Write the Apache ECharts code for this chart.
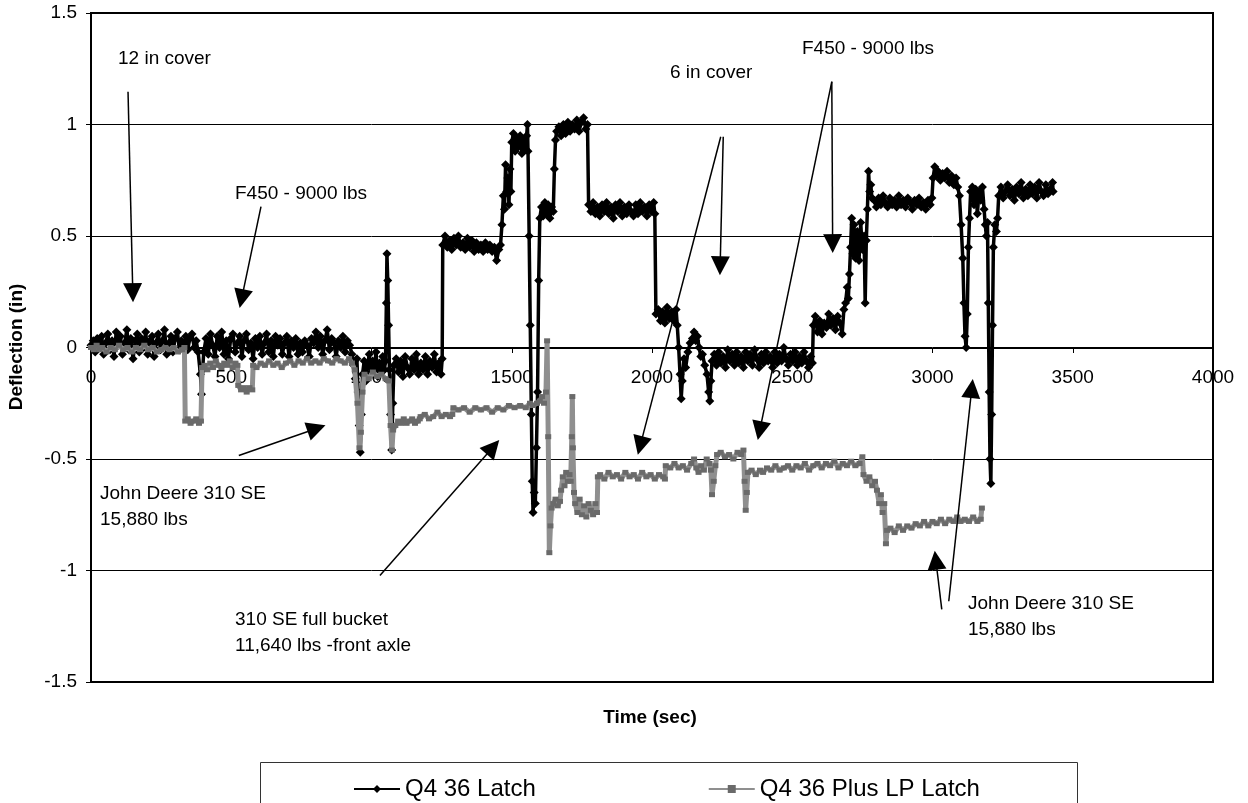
<!DOCTYPE html>
<html>
<head>
<meta charset="utf-8">
<title>Deflection vs time</title>
<script src="https://cdn.jsdelivr.net/npm/echarts@6/dist/echarts.min.js"></script>
<style>
  html, body { margin: 0; padding: 0; background: #fff; }
  #chart { width: 1248px; height: 803px; }
</style>
</head>
<body>
<div id="chart"></div>
<script>
// [time (sec), deflection (in)]
const q4Latch = [
  [0, 0.01], [8, 0.03], [15, -0.02], [22, 0.04], [30, 0.0], [38, 0.05], [45, -0.03], [52, 0.02], [60, 0.06], [68, -0.01],
  [75, 0.03], [82, -0.04], [90, 0.07], [98, 0.01], [105, 0.05], [112, -0.03], [120, 0.02], [128, 0.08], [135, -0.01], [142, 0.04],
  [150, -0.05], [158, 0.03], [165, 0.06], [172, -0.02], [180, 0.04], [188, 0.0], [195, 0.07], [202, -0.03], [210, 0.03], [218, 0.05],
  [225, -0.04], [232, 0.02], [240, 0.06], [248, -0.01], [255, 0.03], [262, 0.08], [270, -0.03], [278, 0.02], [285, 0.05], [292, -0.02],
  [300, 0.04], [308, 0.07], [315, -0.01], [322, 0.03], [330, 0.0], [338, 0.05], [345, -0.01], [352, 0.04], [360, 0.06], [368, 0.0],
  [375, 0.03], [382, -0.02], [390, -0.12], [394, -0.21], [398, -0.1], [402, -0.02], [410, 0.04], [418, -0.03], [426, 0.06], [434, 0.01],
  [442, -0.04], [450, 0.05], [458, 0.0], [466, 0.07], [474, -0.03], [482, 0.03], [490, -0.05], [498, 0.04], [506, 0.06], [514, -0.02],
  [522, 0.02], [530, 0.05], [538, -0.04], [546, 0.03], [554, 0.06], [562, -0.01], [570, 0.02], [578, -0.05], [586, 0.04], [594, 0.0],
  [602, 0.05], [610, -0.03], [618, 0.02], [626, 0.06], [634, -0.02], [642, 0.03], [650, -0.04], [658, 0.05], [666, 0.01], [674, 0.04],
  [682, -0.03], [690, 0.02], [698, 0.05], [706, -0.04], [714, 0.03], [722, 0.0], [730, 0.04], [738, -0.03], [746, 0.02], [754, -0.02],
  [762, 0.03], [770, 0.01], [778, -0.04], [786, 0.04], [794, 0.02], [802, 0.07], [810, 0.0], [818, 0.05], [826, -0.03], [834, 0.03],
  [842, 0.08], [850, -0.01], [858, 0.04], [866, 0.02], [874, -0.04], [882, 0.03], [890, 0.0], [898, 0.05], [906, -0.02], [914, 0.03],
  [922, 0.01], [930, -0.03], [936, -0.08], [942, -0.14], [948, -0.05], [952, -0.2], [956, -0.35], [960, -0.47], [964, -0.3], [968, -0.12],
  [974, -0.06], [980, -0.15], [986, -0.08], [992, -0.03], [998, -0.12], [1004, -0.06], [1010, -0.1], [1016, -0.02], [1022, -0.13], [1028, -0.07],
  [1034, -0.11], [1040, -0.04], [1046, -0.1], [1050, -0.06], [1053, 0.2], [1055, 0.42], [1058, 0.3], [1061, 0.1], [1064, -0.1], [1068, -0.3],
  [1072, -0.46], [1076, -0.25], [1080, -0.08], [1088, -0.05], [1096, -0.11], [1104, -0.06], [1112, -0.13], [1120, -0.04], [1128, -0.09], [1136, -0.12],
  [1144, -0.05], [1152, -0.1], [1160, -0.03], [1168, -0.12], [1176, -0.07], [1184, -0.1], [1192, -0.04], [1200, -0.12], [1208, -0.06], [1216, -0.09],
  [1224, -0.03], [1232, -0.11], [1240, -0.07], [1248, -0.12], [1252, -0.05], [1254, 0.46], [1262, 0.5], [1270, 0.45], [1278, 0.48], [1286, 0.44],
  [1294, 0.49], [1302, 0.46], [1310, 0.5], [1318, 0.45], [1326, 0.47], [1334, 0.44], [1342, 0.49], [1350, 0.45], [1358, 0.48], [1366, 0.43],
  [1374, 0.47], [1382, 0.44], [1390, 0.46], [1398, 0.43], [1406, 0.47], [1414, 0.44], [1422, 0.46], [1430, 0.43], [1438, 0.45], [1446, 0.39],
  [1454, 0.44], [1460, 0.46], [1465, 0.55], [1470, 0.68], [1474, 0.62], [1478, 0.82], [1482, 0.7], [1486, 0.76], [1490, 0.64], [1494, 0.8],
  [1497, 0.7], [1500, 0.92], [1506, 0.96], [1512, 0.88], [1518, 0.94], [1524, 0.9], [1530, 0.95], [1536, 0.87], [1542, 0.93], [1548, 0.89],
  [1553, 0.95], [1556, 1.0], [1558, 0.88], [1562, 0.5], [1566, 0.1], [1570, -0.3], [1573, -0.6], [1576, -0.74], [1580, -0.65], [1584, -0.7],
  [1588, -0.45], [1592, -0.2], [1596, 0.3], [1600, 0.58], [1606, 0.63], [1612, 0.59], [1618, 0.65], [1624, 0.6], [1630, 0.64], [1636, 0.58],
  [1642, 0.63], [1648, 0.61], [1652, 0.8], [1656, 0.93], [1660, 0.97], [1668, 0.99], [1676, 0.95], [1684, 1.0], [1692, 0.96], [1700, 1.01],
  [1708, 0.97], [1716, 1.0], [1724, 0.98], [1732, 1.02], [1740, 0.97], [1748, 1.01], [1756, 1.03], [1764, 0.98], [1770, 1.0], [1774, 0.64],
  [1782, 0.61], [1790, 0.65], [1798, 0.6], [1806, 0.63], [1814, 0.59], [1822, 0.64], [1830, 0.61], [1838, 0.65], [1846, 0.6], [1854, 0.63],
  [1862, 0.58], [1870, 0.64], [1878, 0.61], [1886, 0.65], [1894, 0.59], [1902, 0.63], [1910, 0.6], [1918, 0.64], [1926, 0.61], [1934, 0.59],
  [1942, 0.64], [1950, 0.6], [1958, 0.65], [1966, 0.61], [1974, 0.63], [1982, 0.59], [1990, 0.64], [1998, 0.61], [2006, 0.65], [2010, 0.6],
  [2014, 0.15], [2022, 0.17], [2030, 0.12], [2038, 0.16], [2046, 0.11], [2054, 0.18], [2062, 0.13], [2070, 0.16], [2078, 0.12], [2086, 0.17],
  [2090, 0.1], [2095, 0.0], [2100, -0.12], [2104, -0.23], [2108, -0.15], [2114, -0.05], [2120, -0.09], [2128, -0.02], [2136, 0.02], [2144, 0.04],
  [2150, 0.07], [2156, 0.03], [2162, 0.05], [2168, 0.0], [2174, -0.04], [2180, -0.03], [2188, -0.08], [2196, -0.12], [2202, -0.2], [2206, -0.24],
  [2210, -0.15], [2214, -0.06], [2222, -0.03], [2230, -0.08], [2238, -0.02], [2246, -0.07], [2254, -0.04], [2262, -0.09], [2270, -0.01], [2278, -0.06],
  [2286, -0.03], [2294, -0.08], [2302, -0.02], [2310, -0.07], [2318, -0.04], [2326, -0.09], [2334, -0.02], [2342, -0.06], [2350, -0.03], [2358, -0.08],
  [2366, -0.01], [2374, -0.05], [2382, -0.09], [2390, -0.03], [2398, -0.07], [2406, -0.02], [2414, -0.06], [2422, -0.04], [2430, -0.09], [2438, -0.02],
  [2446, -0.07], [2454, -0.03], [2462, -0.06], [2470, 0.0], [2478, -0.05], [2486, -0.08], [2494, -0.03], [2502, -0.06], [2510, -0.02], [2518, -0.08],
  [2526, -0.04], [2534, -0.07], [2542, -0.02], [2550, -0.06], [2558, -0.09], [2566, -0.04], [2572, -0.07], [2575, 0.1], [2582, 0.14], [2590, 0.07],
  [2598, 0.12], [2606, 0.06], [2614, 0.11], [2622, 0.09], [2630, 0.15], [2638, 0.1], [2646, 0.13], [2654, 0.08], [2662, 0.14], [2670, 0.11],
  [2678, 0.06], [2684, 0.17], [2690, 0.2], [2696, 0.27], [2700, 0.22], [2704, 0.33], [2708, 0.45], [2712, 0.58], [2716, 0.42], [2720, 0.55],
  [2726, 0.4], [2732, 0.52], [2738, 0.39], [2744, 0.56], [2750, 0.44], [2756, 0.5], [2760, 0.2], [2764, 0.48], [2768, 0.62], [2772, 0.79],
  [2776, 0.7], [2780, 0.73], [2784, 0.67], [2792, 0.66], [2800, 0.63], [2808, 0.67], [2816, 0.64], [2824, 0.68], [2832, 0.65], [2840, 0.63],
  [2848, 0.67], [2856, 0.64], [2864, 0.66], [2872, 0.63], [2880, 0.68], [2888, 0.64], [2896, 0.66], [2904, 0.63], [2912, 0.67], [2920, 0.65],
  [2928, 0.62], [2936, 0.66], [2944, 0.64], [2952, 0.67], [2960, 0.63], [2968, 0.65], [2976, 0.62], [2984, 0.66], [2992, 0.64], [2998, 0.67],
  [3002, 0.76], [3008, 0.81], [3014, 0.77], [3020, 0.79], [3028, 0.75], [3036, 0.78], [3044, 0.76], [3052, 0.79], [3060, 0.74], [3068, 0.77],
  [3076, 0.73], [3084, 0.76], [3090, 0.72], [3096, 0.68], [3102, 0.55], [3108, 0.4], [3112, 0.2], [3116, 0.05], [3120, 0.0], [3124, 0.15],
  [3128, 0.45], [3132, 0.58], [3136, 0.7], [3142, 0.72], [3148, 0.64], [3154, 0.71], [3160, 0.6], [3166, 0.7], [3172, 0.66], [3178, 0.72],
  [3184, 0.62], [3188, 0.55], [3192, 0.5], [3196, 0.56], [3199, 0.2], [3202, -0.2], [3205, -0.5], [3208, -0.61], [3211, -0.3], [3214, 0.1],
  [3217, 0.45], [3222, 0.55], [3228, 0.52], [3232, 0.58], [3236, 0.68], [3244, 0.72], [3252, 0.67], [3260, 0.7], [3268, 0.73], [3276, 0.68],
  [3284, 0.71], [3292, 0.66], [3300, 0.72], [3308, 0.69], [3316, 0.74], [3324, 0.67], [3332, 0.71], [3340, 0.68], [3348, 0.73], [3356, 0.69],
  [3364, 0.72], [3372, 0.67], [3380, 0.74], [3388, 0.7], [3396, 0.68], [3404, 0.73], [3412, 0.69], [3420, 0.71], [3428, 0.74], [3430, 0.7]
];

const q4PlusLP = [
  [0, 0.0], [10, -0.01], [20, 0.01], [30, -0.01], [40, 0.0], [55, -0.02], [70, 0.0], [85, -0.01], [100, 0.01], [115, -0.01],
  [130, 0.0], [145, -0.02], [160, 0.0], [175, -0.01], [190, 0.01], [205, -0.01], [220, 0.0], [235, -0.02], [250, -0.01], [265, 0.0],
  [280, -0.01], [295, 0.0], [310, -0.02], [325, -0.01], [333, 0.0], [336, -0.33], [345, -0.32], [355, -0.34], [365, -0.33], [375, -0.32],
  [385, -0.34], [392, -0.33], [396, -0.09], [405, -0.08], [415, -0.1], [425, -0.07], [435, -0.09], [445, -0.06], [455, -0.08], [465, -0.09],
  [475, -0.07], [485, -0.08], [495, -0.06], [505, -0.09], [515, -0.07], [522, -0.08], [525, -0.17], [535, -0.19], [545, -0.18], [555, -0.2],
  [565, -0.18], [575, -0.19], [578, -0.08], [590, -0.09], [605, -0.07], [620, -0.08], [635, -0.06], [650, -0.08], [665, -0.07], [680, -0.09],
  [695, -0.07], [710, -0.06], [725, -0.08], [740, -0.06], [755, -0.07], [770, -0.05], [785, -0.07], [800, -0.06], [815, -0.07], [830, -0.05],
  [845, -0.06], [860, -0.07], [875, -0.05], [890, -0.06], [905, -0.07], [920, -0.05], [930, -0.07], [940, -0.1], [950, -0.25], [957, -0.45],
  [962, -0.38], [968, -0.2], [975, -0.12], [990, -0.14], [1005, -0.11], [1020, -0.13], [1035, -0.12], [1050, -0.14], [1062, -0.15], [1068, -0.35],
  [1073, -0.46], [1077, -0.37], [1085, -0.35], [1095, -0.33], [1105, -0.34], [1115, -0.32], [1125, -0.34], [1135, -0.33], [1145, -0.32], [1155, -0.34],
  [1165, -0.33], [1172, -0.32], [1175, -0.31], [1190, -0.3], [1205, -0.32], [1220, -0.31], [1235, -0.29], [1250, -0.31], [1265, -0.3], [1280, -0.31],
  [1288, -0.3], [1292, -0.27], [1310, -0.28], [1330, -0.27], [1350, -0.29], [1370, -0.27], [1390, -0.28], [1410, -0.27], [1430, -0.29], [1450, -0.27],
  [1470, -0.28], [1490, -0.26], [1510, -0.27], [1530, -0.26], [1550, -0.27], [1565, -0.25], [1575, -0.26], [1590, -0.25], [1600, -0.24], [1608, -0.22],
  [1615, -0.25], [1622, -0.2], [1626, 0.03], [1630, -0.4], [1634, -0.92], [1638, -0.8], [1642, -0.72], [1648, -0.7], [1656, -0.68], [1664, -0.71],
  [1672, -0.69], [1676, -0.64], [1682, -0.58], [1688, -0.62], [1694, -0.56], [1700, -0.6], [1706, -0.57], [1710, -0.6], [1714, -0.4], [1716, -0.22],
  [1718, -0.45], [1722, -0.65], [1726, -0.7], [1734, -0.74], [1742, -0.68], [1750, -0.75], [1758, -0.71], [1766, -0.76], [1774, -0.7], [1782, -0.73],
  [1790, -0.75], [1798, -0.7], [1804, -0.74], [1807, -0.58], [1815, -0.57], [1830, -0.59], [1845, -0.56], [1860, -0.58], [1875, -0.57], [1890, -0.59],
  [1905, -0.56], [1920, -0.58], [1935, -0.57], [1950, -0.59], [1965, -0.56], [1980, -0.58], [1995, -0.57], [2010, -0.59], [2025, -0.57], [2040, -0.58],
  [2046, -0.59], [2049, -0.53], [2065, -0.54], [2080, -0.52], [2095, -0.54], [2110, -0.53], [2125, -0.55], [2140, -0.52], [2150, -0.5], [2158, -0.54],
  [2166, -0.56], [2175, -0.53], [2185, -0.55], [2195, -0.5], [2205, -0.52], [2210, -0.55], [2214, -0.66], [2220, -0.6], [2226, -0.53], [2232, -0.48],
  [2245, -0.47], [2260, -0.49], [2275, -0.48], [2290, -0.5], [2305, -0.47], [2318, -0.48], [2326, -0.46], [2330, -0.6], [2334, -0.73], [2338, -0.65],
  [2342, -0.56], [2355, -0.55], [2370, -0.57], [2385, -0.55], [2396, -0.56], [2410, -0.54], [2425, -0.55], [2440, -0.53], [2455, -0.55], [2470, -0.54],
  [2485, -0.53], [2500, -0.55], [2515, -0.53], [2530, -0.54], [2545, -0.52], [2560, -0.55], [2575, -0.53], [2590, -0.52], [2605, -0.54], [2620, -0.52],
  [2635, -0.53], [2650, -0.51], [2665, -0.54], [2680, -0.52], [2695, -0.53], [2710, -0.51], [2725, -0.53], [2740, -0.52], [2750, -0.49], [2754, -0.57],
  [2765, -0.6], [2775, -0.58], [2785, -0.62], [2795, -0.6], [2802, -0.64], [2810, -0.7], [2816, -0.66], [2822, -0.74], [2828, -0.7], [2834, -0.88],
  [2838, -0.82], [2850, -0.81], [2865, -0.83], [2880, -0.8], [2895, -0.82], [2910, -0.8], [2925, -0.81], [2940, -0.79], [2955, -0.8], [2970, -0.78],
  [2985, -0.8], [3000, -0.78], [3015, -0.79], [3030, -0.77], [3045, -0.79], [3060, -0.77], [3075, -0.78], [3088, -0.76], [3100, -0.78], [3115, -0.77],
  [3130, -0.78], [3145, -0.76], [3160, -0.78], [3172, -0.77], [3176, -0.72]
];

// callout arrows: [from, to] in data units
const arrows = [
  [[132, 1.147], [149, 0.246]],
  [[606, 0.632], [537, 0.219]],
  [[2254, 0.945], [2243, 0.367]],
  [[2245, 0.945], [1958, -0.44]],
  [[2641, 1.192], [2644, 0.466]],
  [[2641, 1.192], [2384, -0.373]],
  [[527, -0.484], [804, -0.363]],
  [[1030, -1.022], [1433, -0.447]],
  [[3033, -1.174], [3012, -0.954]],
  [[3058, -1.138], [3140, -0.184]]
];

const FONT = 'Liberation Sans, Arial, sans-serif';

const chart = echarts.init(document.getElementById('chart'));

function note (text, left, top) {
  return {
    type: 'text',
    left: left,
    top: top,
    z: 100,
    style: { text: text, font: '19px ' + FONT, fill: '#000', lineHeight: 26 }
  };
}

const option = {
  animation: false,
  backgroundColor: '#fff',
  grid: {
    left: 91, right: 35, top: 13, bottom: 121,
    show: true, borderColor: '#000', borderWidth: 2, backgroundColor: 'transparent'
  },
  legend: {
    data: ['Q4 36 Latch', 'Q4 36 Plus LP Latch'],
    left: 348,
    top: 772,
    itemWidth: 46,
    itemHeight: 10,
    itemGap: 172,
    textStyle: { fontSize: 24, color: '#000', fontFamily: FONT }
  },
  xAxis: {
    type: 'value',
    min: 0,
    max: 4000,
    interval: 500,
    // the axis sits on y = 0, labels just under it
    offset: -334,
    axisLine: { onZero: false, lineStyle: { color: '#000', width: 1 } },
    axisTick: { show: true, length: 5, lineStyle: { color: '#000' } },
    axisLabel: { color: '#000', fontSize: 19, fontFamily: FONT, margin: 20, formatter: v => String(v) },
    splitLine: { show: false }
  },
  yAxis: {
    type: 'value',
    min: -1.5,
    max: 1.5,
    interval: 0.5,
    axisLine: { show: true, lineStyle: { color: '#000', width: 2 } },
    axisTick: { show: true, length: 5, lineStyle: { color: '#000' } },
    axisLabel: { color: '#000', fontSize: 19, fontFamily: FONT, margin: 14 },
    splitLine: { show: true, lineStyle: { color: '#000', width: 1 } }
  },
  graphic: [
    {
      type: 'text', x: 17, y: 347, rotation: Math.PI / 2, z: 100,
      style: { text: 'Deflection (in)', font: 'bold 19px ' + FONT, fill: '#000', align: 'center', verticalAlign: 'middle' }
    },
    {
      type: 'text', x: 650, y: 718, z: 100,
      style: { text: 'Time (sec)', font: 'bold 19px ' + FONT, fill: '#000', align: 'center', verticalAlign: 'middle' }
    },
    {
      type: 'rect', shape: { x: 260.5, y: 762.5, width: 817, height: 60 }, z: 1,
      style: { fill: 'none', stroke: '#333', lineWidth: 1 }
    },
    note('12 in cover', 118, 46),
    note('F450 - 9000 lbs', 235, 181),
    note('6 in cover', 670, 60),
    note('F450 - 9000 lbs', 802, 36),
    note('John Deere 310 SE\n15,880 lbs', 100, 481),
    note('310 SE full bucket\n11,640 lbs -front axle', 235, 607),
    note('John Deere 310 SE\n15,880 lbs', 968, 591)
  ],
  series: [
    {
      name: 'Q4 36 Latch',
      type: 'line',
      data: q4Latch,
      symbol: 'diamond',
      symbolSize: 9,
      showSymbol: true,
      itemStyle: { color: '#000' },
      lineStyle: { color: '#000', width: 3.5 },
      z: 3
    },
    {
      name: 'Q4 36 Plus LP Latch',
      type: 'line',
      data: q4PlusLP,
      symbol: 'rect',
      symbolSize: [6, 5],
      showSymbol: true,
      itemStyle: { color: '#6a6a6a' },
      lineStyle: { color: '#8f8f8f', width: 5 },
      z: 4
    },
    {
      name: 'callouts',
      type: 'line',
      data: [],
      z: 5,
      markLine: {
        silent: true,
        animation: false,
        symbol: ['none', 'triangle'],
        symbolSize: 19,
        label: { show: false },
        lineStyle: { color: '#000', width: 1.5, type: 'solid' },
        emphasis: { disabled: true },
        data: arrows.map(a => [{ coord: a[0] }, { coord: a[1] }])
      }
    }
  ]
};

chart.setOption(option);
</script>
</body>
</html>
